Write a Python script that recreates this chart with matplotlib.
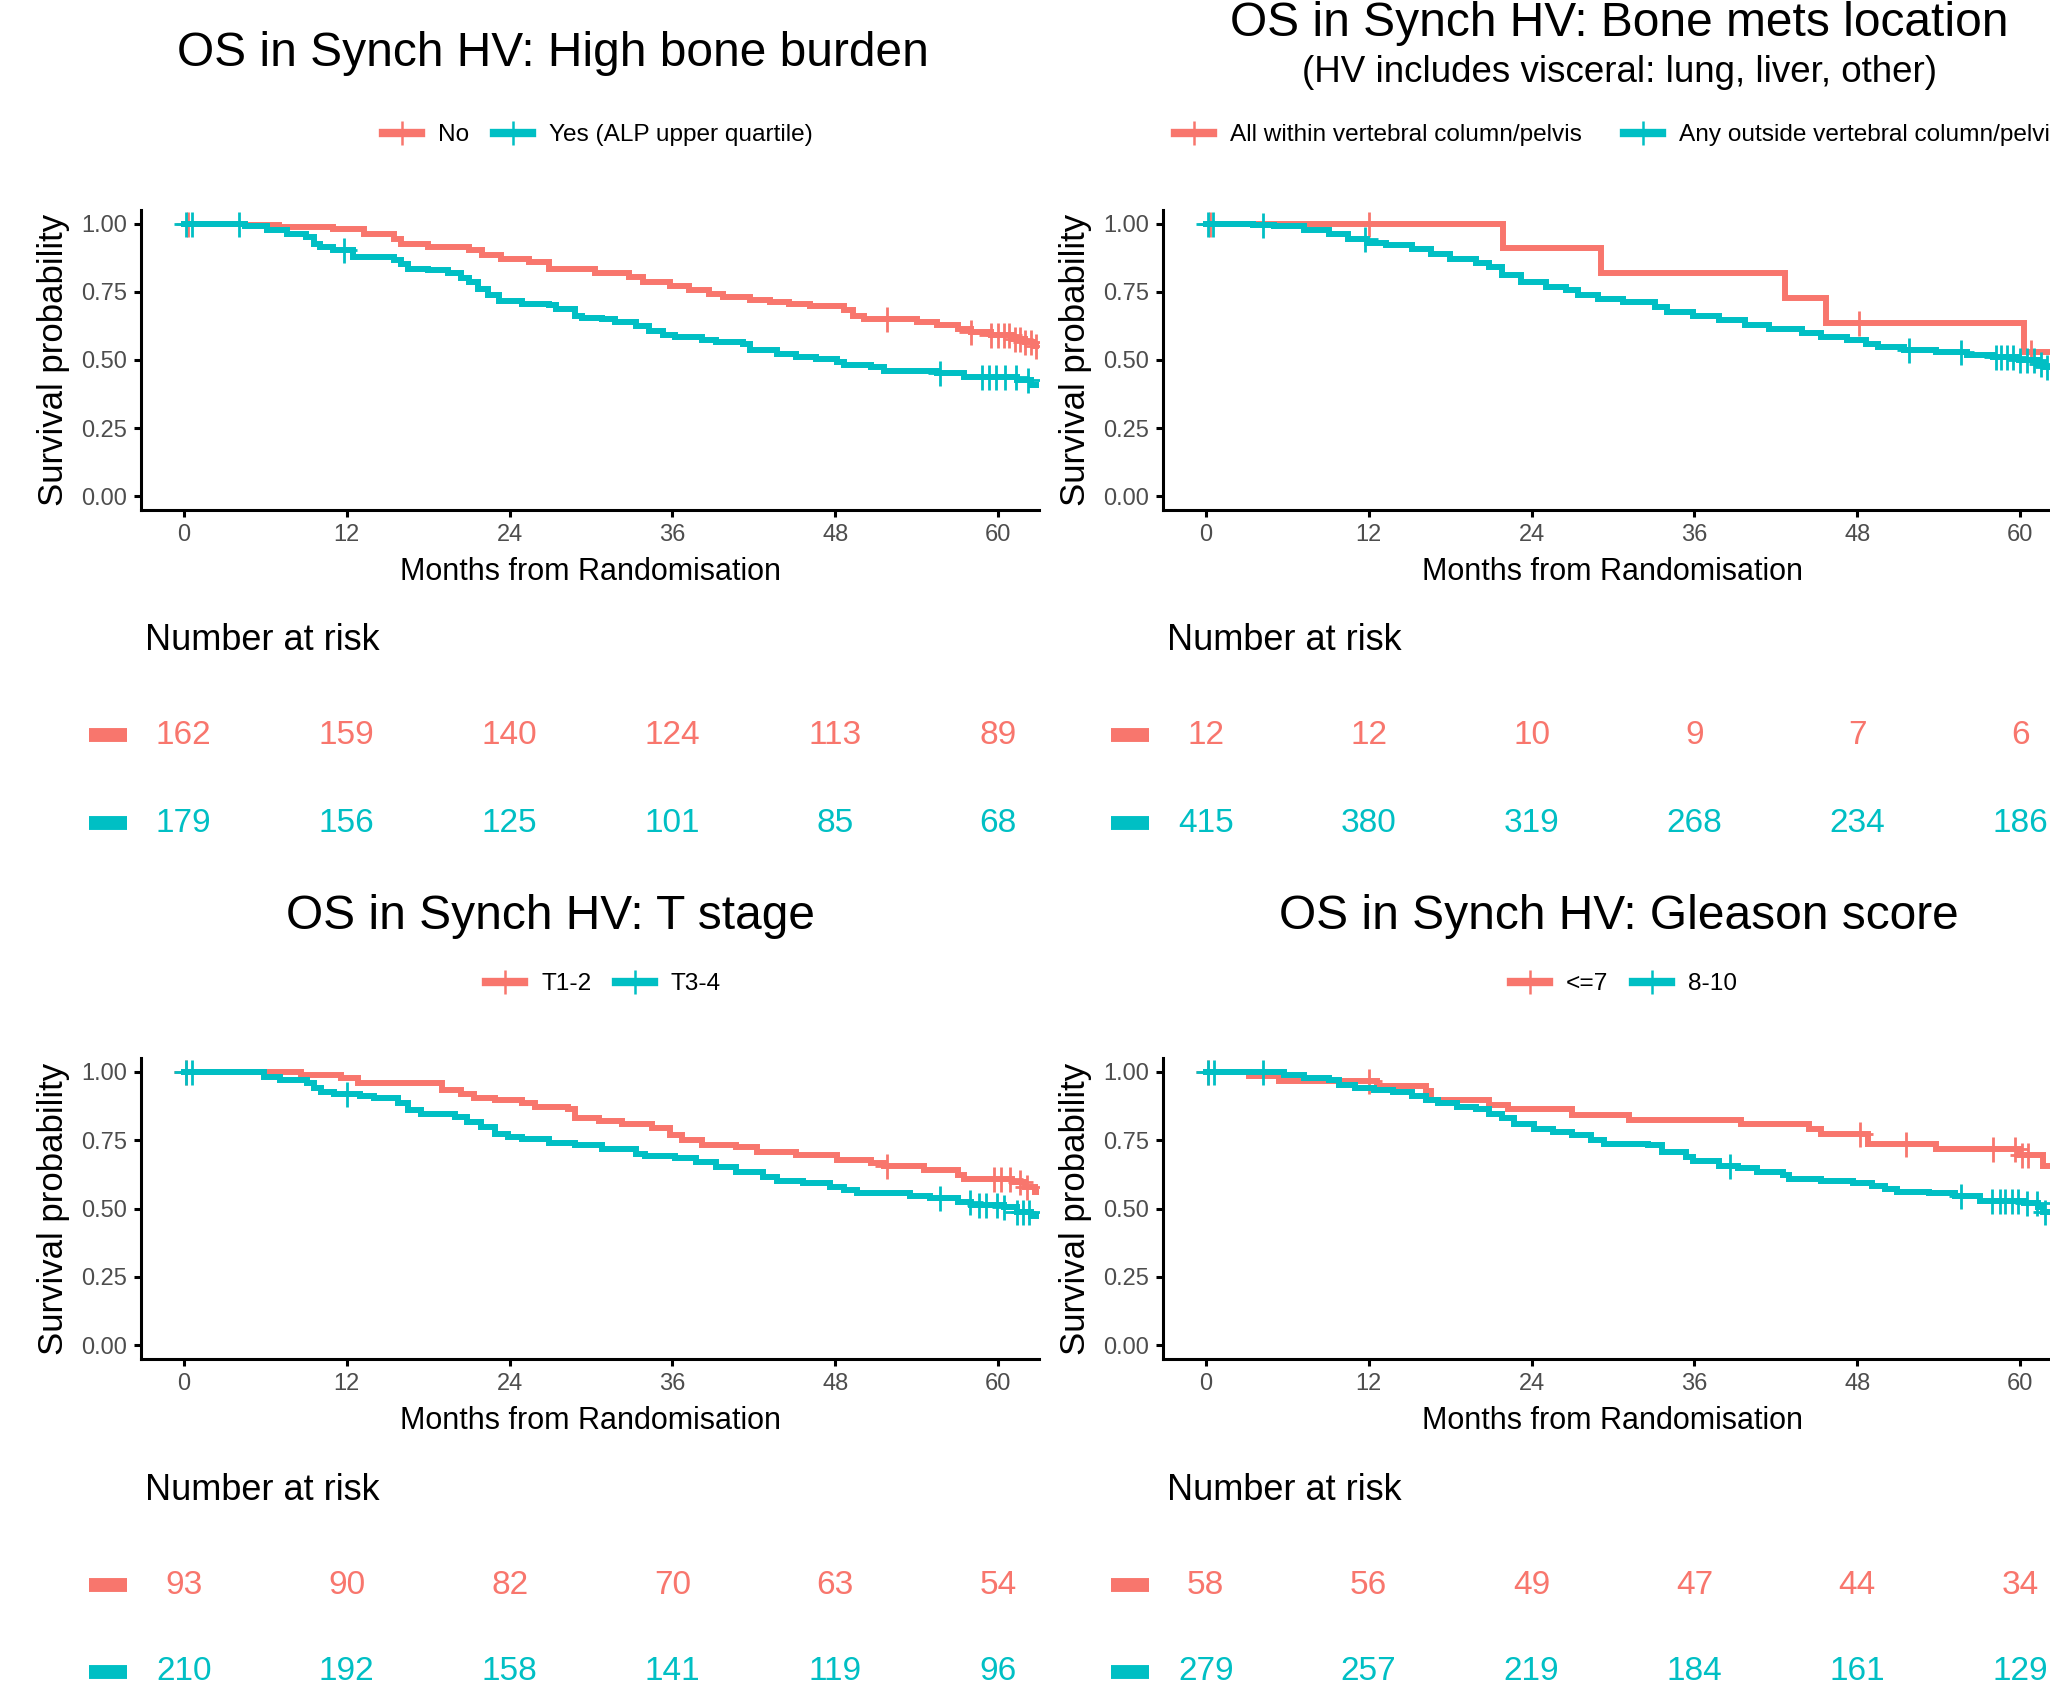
import numpy as np
import matplotlib
matplotlib.use('Agg')
import matplotlib.pyplot as plt
from matplotlib.lines import Line2D
from matplotlib.transforms import blended_transform_factory

plt.rcParams['font.family'] = ['Liberation Sans', 'DejaVu Sans']

RED = '#F8766D'
TEAL = '#00BFC4'
GREY = '#4D4D4D'

risk_months = [0, 12, 24, 36, 48, 60]

# ---- top left: high bone burden
tl_no_t = [0, 4.5, 7.0, 11.0, 13.3, 15.5, 16.0, 18.0, 21.0, 22.0, 23.4, 25.4, 26.9, 30.3, 32.8, 33.8,
           35.8, 37.2, 38.7, 39.7, 41.7, 43.2, 44.6, 46.1, 48.6, 49.3, 50.1, 54.0, 55.5, 57.0, 58.0,
           59.5, 61.0, 62.0, 62.6]
tl_no_s = [1.0, 0.994, 0.988, 0.982, 0.963, 0.945, 0.927, 0.914, 0.902, 0.884, 0.871, 0.859, 0.832,
           0.819, 0.804, 0.786, 0.770, 0.758, 0.743, 0.731, 0.721, 0.711, 0.706, 0.698, 0.684, 0.663,
           0.651, 0.639, 0.627, 0.614, 0.602, 0.590, 0.578, 0.566, 0.553]
tl_no_cens = [0.3, 51.8, 58.0, 59.5, 60.0, 60.4, 60.8, 61.2, 61.6, 62.0, 62.4, 62.8]
tl_yes_t = [0, 4.5, 6.1, 7.6, 9.0, 9.6, 10.0, 11.0, 12.5, 15.5, 16.0, 16.5, 18.0, 19.5, 20.4, 21.0,
            21.7, 22.4, 23.2, 24.9, 26.9, 27.4, 28.8, 29.3, 30.8, 31.8, 33.3, 34.3, 35.3, 36.2, 38.2,
            39.2, 41.2, 41.7, 43.7, 45.1, 46.6, 48.1, 48.6, 50.6, 51.6, 55.5, 57.5, 61.4, 62.4]
tl_yes_s = [1.0, 0.99, 0.978, 0.963, 0.951, 0.927, 0.914, 0.902, 0.878, 0.866, 0.853, 0.835, 0.829,
            0.819, 0.802, 0.786, 0.761, 0.737, 0.718, 0.706, 0.700, 0.688, 0.663, 0.654, 0.651, 0.639,
            0.623, 0.608, 0.590, 0.583, 0.574, 0.566, 0.557, 0.535, 0.523, 0.510, 0.504, 0.492, 0.482,
            0.476, 0.461, 0.452, 0.439, 0.425, 0.409]
tl_yes_cens = [0.2, 0.6, 4.1, 11.8, 55.7, 58.8, 59.3, 59.8, 60.5, 61.3, 62.2]
tl_risk_no = [162, 159, 140, 124, 113, 89]
tl_risk_yes = [179, 156, 125, 101, 85, 68]

# ---- top right: bone mets location
tr_in_t = [0, 21.9, 29.1, 42.7, 45.7, 60.3]
tr_in_s = [1.0, 0.909, 0.818, 0.727, 0.636, 0.530]
tr_in_cens = [0.3, 12.0, 48.1, 60.8]
tr_out_t = [0, 3.5, 5.0, 7.2, 9.1, 10.5, 11.9, 13.3, 15.2, 16.6, 18.0, 19.9, 20.9, 21.8, 23.2, 25.1,
            26.5, 27.4, 28.9, 30.7, 33.1, 34.0, 35.9, 37.8, 39.7, 41.5, 43.9, 45.3, 47.2, 48.6, 49.5,
            51.4, 53.8, 56.1, 58.0, 59.9, 61.3, 61.8]
tr_out_s = [1.0, 0.995, 0.99, 0.978, 0.963, 0.945, 0.929, 0.920, 0.908, 0.890, 0.871, 0.856, 0.841,
            0.810, 0.786, 0.767, 0.755, 0.737, 0.725, 0.712, 0.696, 0.676, 0.660, 0.645, 0.630, 0.614,
            0.599, 0.584, 0.574, 0.559, 0.547, 0.537, 0.529, 0.520, 0.510, 0.501, 0.486, 0.474]
tr_out_cens = [0.2, 0.5, 4.2, 11.7, 51.8, 55.6, 58.2, 58.6, 59.0, 59.5, 60.0, 60.5, 61.0, 61.5, 62.0, 62.5]
tr_risk_in = [12, 12, 10, 9, 7, 6]
tr_risk_out = [415, 380, 319, 268, 234, 186]

# ---- bottom left: T stage
bl_a_t = [0, 8.6, 11.6, 12.8, 19.0, 20.4, 21.4, 22.9, 24.9, 25.9, 28.3, 28.8, 30.6, 32.3, 34.5, 35.8,
          36.7, 38.2, 40.7, 42.2, 45.1, 48.1, 50.6, 51.6, 54.5, 57.0, 57.5, 61.0, 62.0, 62.7]
bl_a_s = [1.0, 0.989, 0.978, 0.96, 0.933, 0.92, 0.902, 0.896, 0.884, 0.871, 0.865, 0.829, 0.819, 0.807,
          0.794, 0.767, 0.749, 0.733, 0.725, 0.706, 0.694, 0.679, 0.667, 0.654, 0.641, 0.621, 0.608,
          0.596, 0.578, 0.559]
bl_a_cens = [0.2, 51.8, 59.7, 60.2, 60.9, 61.6, 62.1]
bl_b_t = [0, 5.9, 7.1, 9.1, 9.6, 10.1, 11.1, 13.0, 14.0, 15.8, 16.5, 17.5, 20.0, 20.9, 21.9, 22.9, 23.9,
          24.9, 26.9, 28.8, 30.8, 33.3, 34.0, 36.2, 37.7, 39.2, 40.7, 42.7, 43.7, 45.6, 47.6, 48.6, 49.6,
          53.5, 55.0, 57.0, 58.0, 60.4, 61.4, 62.4]
bl_b_s = [1.0, 0.982, 0.969, 0.957, 0.939, 0.927, 0.920, 0.912, 0.902, 0.884, 0.859, 0.847, 0.835, 0.816,
          0.798, 0.774, 0.761, 0.755, 0.740, 0.731, 0.718, 0.700, 0.692, 0.683, 0.670, 0.651, 0.633,
          0.614, 0.602, 0.594, 0.578, 0.566, 0.556, 0.547, 0.537, 0.525, 0.513, 0.504, 0.486, 0.474]
bl_b_cens = [0.2, 0.6, 12.0, 55.7, 57.9, 58.6, 59.1, 59.9, 60.4, 61.4, 61.8, 62.3]
bl_risk_a = [93, 90, 82, 70, 63, 54]
bl_risk_b = [210, 192, 158, 141, 119, 96]

# ---- bottom right: Gleason score
br_a_t = [0, 3.2, 5.4, 12.6, 16.2, 16.6, 20.9, 22.3, 27.0, 31.2, 39.4, 44.4, 45.3, 48.8, 53.8, 59.9, 61.7]
br_a_s = [1.0, 0.983, 0.966, 0.947, 0.929, 0.895, 0.880, 0.862, 0.843, 0.825, 0.807, 0.789, 0.771,
          0.737, 0.718, 0.696, 0.657]
br_a_cens = [0.2, 12.0, 48.2, 51.6, 58.0, 59.6, 60.1, 60.6]
br_b_t = [0, 5.8, 7.2, 9.1, 9.8, 11.0, 12.4, 13.8, 15.2, 16.2, 17.1, 18.5, 19.9, 20.9, 21.8, 22.7, 24.2,
          25.6, 27.0, 28.4, 29.3, 32.6, 33.6, 35.4, 35.9, 37.8, 39.2, 40.6, 42.5, 43.0, 45.3, 47.7, 49.1,
          50.0, 50.9, 53.3, 55.2, 57.0, 60.3, 61.3, 61.7]
br_b_s = [1.0, 0.988, 0.976, 0.969, 0.951, 0.939, 0.933, 0.924, 0.912, 0.896, 0.884, 0.871, 0.863, 0.847,
          0.829, 0.807, 0.792, 0.780, 0.767, 0.749, 0.737, 0.731, 0.706, 0.688, 0.672, 0.657, 0.647,
          0.635, 0.621, 0.606, 0.599, 0.594, 0.584, 0.572, 0.562, 0.557, 0.545, 0.529, 0.520, 0.504, 0.486]
br_b_cens = [0.2, 0.6, 4.2, 38.6, 55.6, 57.9, 58.5, 58.9, 59.4, 59.8, 60.5, 61.2, 61.8]
br_risk_a = [58, 56, 49, 47, 44, 34]
br_risk_b = [279, 257, 219, 184, 161, 129]

W, H = 2050, 1691
fig = plt.figure(figsize=(W / 100, H / 100), dpi=100)


def add_ax(left, top, right, bottom):
    return fig.add_axes([left / W, 1 - bottom / H, (right - left) / W, (bottom - top) / H])


def km_panel(ax, curves):
    for t, s, cens, col in curves:
        t = np.append(t, 63.0)
        s = np.append(s, s[-1])
        ax.step(t, s, where='post', color=col, lw=4.3, solid_joinstyle='miter')
        idx = np.searchsorted(t, cens, side='right') - 1
        ax.plot(cens, s[idx], ls='none', marker='+', ms=18, mew=2.0, color=col)
    ax.set_xlim(-3.15, 63)
    ax.set_ylim(-0.05, 1.05)
    ax.set_xticks([0, 12, 24, 36, 48, 60])
    ax.set_yticks([0, 0.25, 0.5, 0.75, 1.0])
    ax.set_yticklabels(['0.00', '0.25', '0.50', '0.75', '1.00'])
    for sp in ['top', 'right']:
        ax.spines[sp].set_visible(False)
    for sp in ['left', 'bottom']:
        ax.spines[sp].set_linewidth(2.2)
    ax.tick_params(length=5, width=2.2, labelsize=17, labelcolor=GREY, pad=5)
    ax.set_xlabel('Months from Randomisation', fontsize=22, labelpad=8)
    ax.set_ylabel('Survival probability', fontsize=25, labelpad=8)


def risk_table(ax, label_y, rows, label_x):
    fig.text(label_x / W, 1 - label_y / H, 'Number at risk', fontsize=26, va='center', ha='left')
    tr = blended_transform_factory(ax.transData, fig.transFigure)
    for ypx, vals, col in rows:
        yf = 1 - ypx / H
        ax.plot([-7.0, -4.2], [yf, yf], color=col, lw=10, solid_capstyle='butt',
                transform=tr, clip_on=False)
        for m, v in zip(risk_months, vals):
            ax.text(m, yf, str(v), color=col, fontsize=24, ha='center', va='center',
                    transform=tr, clip_on=False)


def legend(labels, x_px, y_px, colsp=1.0):
    handles = [Line2D([], [], color=c, lw=6, marker='+', ms=17, mew=1.8) for c in (RED, TEAL)]
    fig.legend(handles, labels, loc='center left', bbox_to_anchor=(x_px / W, 1 - y_px / H),
               ncol=2, frameon=False, fontsize=17.6, borderpad=0, handlelength=1.55,
               handletextpad=0.7, columnspacing=colsp)


ax1 = add_ax(141, 210, 1039, 510)
km_panel(ax1, [(tl_no_t, tl_no_s, tl_no_cens, RED), (tl_yes_t, tl_yes_s, tl_yes_cens, TEAL)])
ax2 = add_ax(1163, 210, 2061, 510)
km_panel(ax2, [(tr_in_t, tr_in_s, tr_in_cens, RED), (tr_out_t, tr_out_s, tr_out_cens, TEAL)])
ax3 = add_ax(141, 1058, 1039, 1359)
km_panel(ax3, [(bl_a_t, bl_a_s, bl_a_cens, RED), (bl_b_t, bl_b_s, bl_b_cens, TEAL)])
ax4 = add_ax(1163, 1058, 2061, 1359)
km_panel(ax4, [(br_a_t, br_a_s, br_a_cens, RED), (br_b_t, br_b_s, br_b_cens, TEAL)])

fig.text(553 / W, 1 - 54 / H, 'OS in Synch HV: High bone burden', fontsize=34.5, ha='center', va='center')
fig.text(1619 / W, 1 - 24 / H, 'OS in Synch HV: Bone mets location', fontsize=34.5, ha='center', va='center')
fig.text(1620 / W, 1 - 73 / H, '(HV includes visceral: lung, liver, other)', fontsize=26.5,
         ha='center', va='center')
fig.text(550 / W, 1 - 917 / H, 'OS in Synch HV: T stage', fontsize=34.5, ha='center', va='center')
fig.text(1619 / W, 1 - 917 / H, 'OS in Synch HV: Gleason score', fontsize=34.5, ha='center', va='center')

legend(['No', 'Yes (ALP upper quartile)'], 371, 135)
legend(['All within vertebral column/pelvis', 'Any outside vertebral column/pelvis'], 1163, 135, 1.7)
legend(['T1-2', 'T3-4'], 474, 984)
legend(['<=7', '8-10'], 1499, 984)

risk_table(ax1, 641, [(735, tl_risk_no, RED), (823, tl_risk_yes, TEAL)], 145)
risk_table(ax2, 641, [(735, tr_risk_in, RED), (823, tr_risk_out, TEAL)], 1167)
risk_table(ax3, 1491, [(1585, bl_risk_a, RED), (1672, bl_risk_b, TEAL)], 145)
risk_table(ax4, 1491, [(1585, br_risk_a, RED), (1672, br_risk_b, TEAL)], 1167)

fig.savefig('out.png', dpi=100)
